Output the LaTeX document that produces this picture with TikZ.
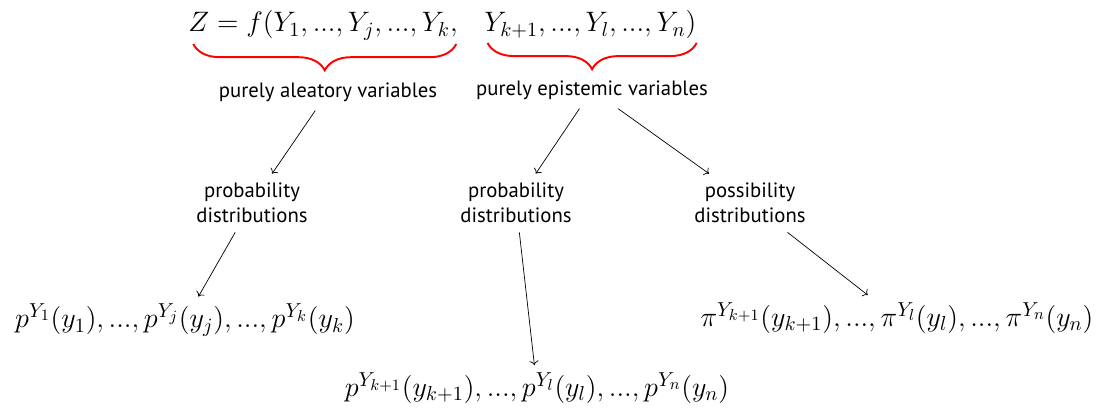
\RequirePackage{fix-cm}
\documentclass[tikz,border=0pt]{standalone}
\usepackage{amsmath}
\usepackage{fontspec}
\usepackage{tikz}
\usetikzlibrary{positioning,arrows.meta,decorations.pathreplacing}
\newfontfamily\lblfont{PT Sans}
\DeclareMathSizes{16}{16}{11.5}{9}

\begin{document}
\begin{tikzpicture}[x=0.02cm,y=-0.02cm,
  lbl/.style={font=\lblfont\fontsize{11.8}{14.5}\selectfont,align=center,inner sep=5pt},
  frm/.style={inner sep=0pt,font=\fontsize{16}{19}\selectfont},
  res/.style={inner sep=4pt,font=\fontsize{16}{19}\selectfont},
  arr/.style={-{To},thin},
  brc/.style={decorate,decoration={brace,mirror,amplitude=15pt},line width=1.1pt,red}]
  \useasboundingbox (0,0) rectangle (1097,415);
  % formula split in two parts for the braces
  \node[frm,anchor=base east] (zl) at (458,32) {$Z=f(Y_1,...,Y_j,...,Y_k,$};
  \node[frm,anchor=base west] (zr) at (484,32) {$Y_{k+1},...,Y_l,...,Y_n)$};
  \draw[brc] ([xshift=3pt,yshift=-2pt]zl.south west) -- ([xshift=-1pt,yshift=-2pt]zl.south east);
  \draw[brc] ([xshift=2pt,yshift=-2pt]zr.south west) -- ([yshift=-2pt]zr.south east);
  \node[lbl] (ale) at (328,92) {purely aleatory variables};
  \node[lbl] (epi) at (592,90) {purely epistemic variables};
  \node[lbl] (pdA) at (252,203) {probability\\distributions};
  \node[lbl] (pdB) at (516,203) {probability\\distributions};
  \node[lbl] (psB) at (750,203) {possibility\\distributions};
  \node[res] (fA) at (185,320) {$p^{Y_1}(y_1),...,p^{Y_j}(y_j),...,p^{Y_k}(y_k)$};
  \node[res] (fB) at (537,388) {$p^{Y_{k+1}}(y_{k+1}),...,p^{Y_l}(y_l),...,p^{Y_n}(y_n)$};
  \node[res] (fC) at (897,318) {$\pi^{Y_{k+1}}(y_{k+1}),...,\pi^{Y_l}(y_l),...,\pi^{Y_n}(y_n)$};
  \draw[arr] (ale) -- (pdA); \draw[arr] (pdA) -- (fA);
  \draw[arr] (epi) -- (pdB); \draw[arr] (pdB) -- (fB);
  \draw[arr] (epi) -- (psB); \draw[arr] (psB) -- (fC);
\end{tikzpicture}
\end{document}
